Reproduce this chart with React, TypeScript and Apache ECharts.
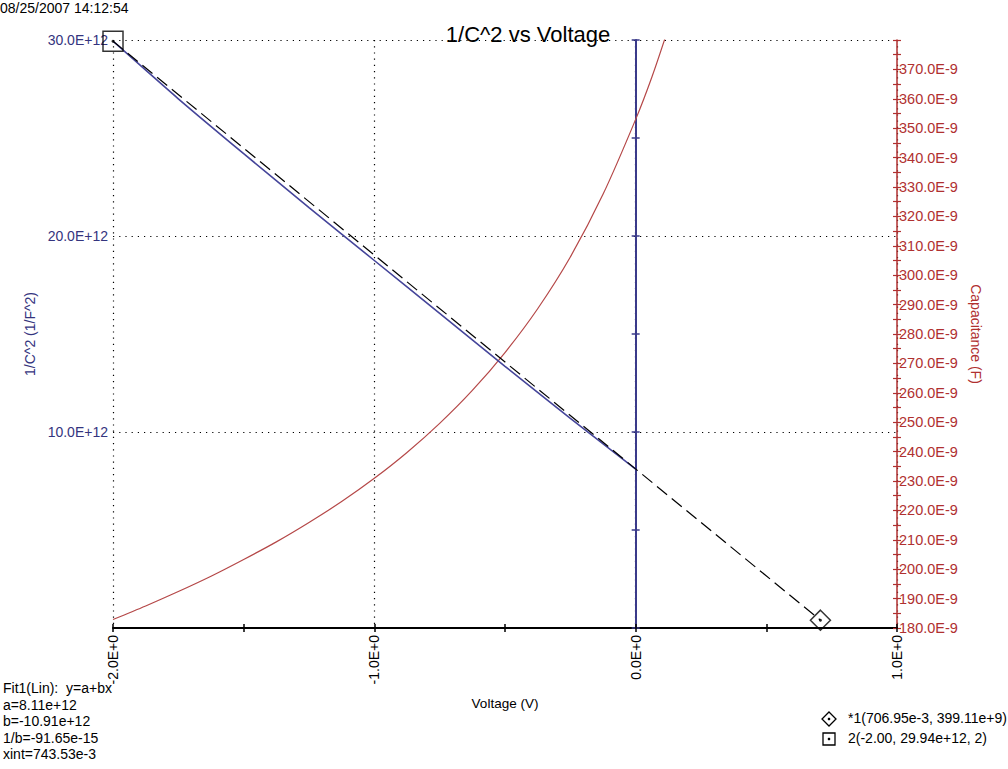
import React, { useEffect, useRef } from "react";
import * as echarts from "echarts";

// ---- Data ----
// 1/C^2 measured (units of 1E+12 1/F^2)
const voltages = [-2, -1.75, -1.5, -1.25, -1, -0.75, -0.5, -0.25, 0];
const invCapSq = [29.94, 27.0, 24.2, 21.45, 18.75, 16.05, 13.35, 10.7, 8.1];

// Capacitance (units of 1E-9 F)
const capVoltages = [
  -2, -1.875, -1.75, -1.625, -1.5, -1.375, -1.25, -1.125, -1, -0.875, -0.75,
  -0.625, -0.5, -0.375, -0.25, -0.125, 0, 0.0625, 0.125,
];
const capValues = [
  182.9, 187.5, 192.4, 197.6, 203.3, 209.3, 215.9, 223.0, 230.9, 239.7, 249.6,
  260.8, 273.7, 288.6, 306.2, 327.5, 353.0, 367.5, 384.0,
];

// Linear fit line endpoints (units of 1E+12)
const fitVoltages = [-2, 0.70695];
const fitValues = [29.94, 0.39911];

// Cursors
const cursor1 = [0.70695, 0.39911];
const cursor2 = [-2.0, 29.94];

// Tick settings
const xTicks = { min: -2, max: 1, interval: 1 };
const leftTicks = { min: 0, max: 30, interval: 10 };
const rightTicks = { min: 180, max: 380, interval: 5 };

const fitText = [
  "Fit1(Lin):  y=a+bx",
  "a=8.11e+12",
  "b=-10.91e+12",
  "1/b=-91.65e-15",
  "xint=743.53e-3",
];
const cursorText = ["*1(706.95e-3, 399.11e+9)", "2(-2.00, 29.94e+12, 2)"];

const FONT = '"Liberation Sans", Arial, Helvetica, sans-serif';
const BLUE = "#3a3a8a";
const BLUE_TXT = "#34347e";
const RED = "#b03030";
const RED_CURVE = "#b54848";

export default function App() {
  const ref = useRef<HTMLDivElement>(null);

  useEffect(() => {
    if (!ref.current) return;
    const chart = echarts.init(ref.current, undefined, { renderer: "svg" });

    const dotted = { color: "#000", width: 1.2, type: [1.2, 5] as any };

    const option: any = {
      animation: false,
      backgroundColor: "#ffffff",
      textStyle: { fontFamily: FONT },
      grid: { left: 113, right: 111, top: 40, bottom: 141, containLabel: false },
      xAxis: [
        {
          type: "value",
          min: xTicks.min,
          max: xTicks.max,
          interval: xTicks.interval,
          name: "Voltage (V)",
          nameLocation: "middle",
          nameGap: 68,
          nameTextStyle: { color: "#000", fontSize: 13.5, fontFamily: FONT },
          axisLine: { show: true, onZero: false, lineStyle: { color: "#000", width: 2 } },
          axisTick: { show: true, inside: false, length: 4, lineStyle: { color: "#000", width: 1.5 } },
          minorTick: { show: true, splitNumber: 2, length: 4, lineStyle: { color: "#000", width: 1.5 } },
          axisLabel: {
            rotate: 90,
            margin: 7,
            color: "#000",
            fontSize: 14,
            fontFamily: FONT,
            formatter: (v: number) => v.toFixed(1) + "E+0",
          },
          splitLine: { show: true, lineStyle: dotted },
        },
        {
          type: "value",
          min: xTicks.min,
          max: xTicks.max,
          interval: xTicks.interval,
          position: "bottom",
          axisLine: { show: false, onZero: false },
          axisTick: { show: true, inside: true, length: 4, lineStyle: { color: "#000", width: 1.5 } },
          minorTick: { show: true, splitNumber: 2, length: 4, lineStyle: { color: "#000", width: 1.5 } },
          axisLabel: { show: false },
          splitLine: { show: false },
        },
      ],
      yAxis: [
        {
          type: "value",
          position: "left",
          min: leftTicks.min,
          max: leftTicks.max,
          interval: leftTicks.interval,
          name: "1/C^2 (1/F^2)",
          nameLocation: "middle",
          nameGap: 76,
          nameTextStyle: { color: BLUE_TXT, fontSize: 14, fontFamily: FONT },
          axisLine: { show: false, onZero: false },
          axisTick: { show: false },
          axisLabel: {
            color: BLUE_TXT,
            fontSize: 14,
            margin: 5,
            fontFamily: FONT,
            formatter: (v: number) => (v === 0 ? "" : v.toFixed(1) + "E+12"),
          },
          splitLine: { show: true, lineStyle: dotted },
        },
        {
          type: "value",
          position: "right",
          min: rightTicks.min,
          max: rightTicks.max,
          interval: rightTicks.interval,
          name: "Capacitance (F)",
          nameLocation: "middle",
          nameGap: 72,
          nameRotate: -90,
          nameTextStyle: { color: RED, fontSize: 14, fontFamily: FONT },
          axisLine: { show: true, onZero: false, lineStyle: { color: RED, width: 1.5 } },
          axisTick: { show: true, inside: false, length: 4, lineStyle: { color: RED, width: 1.2 } },
          axisLabel: {
            color: RED,
            fontSize: 14.5,
            margin: 2,
            fontFamily: FONT,
            formatter: (v: number) =>
              v % 10 === 0 && v < rightTicks.max ? v.toFixed(1) + "E-9" : "",
          },
          splitLine: { show: false },
        },
        {
          type: "value",
          position: "right",
          min: rightTicks.min,
          max: rightTicks.max,
          interval: rightTicks.interval,
          axisLine: { show: false, onZero: false },
          axisTick: { show: true, inside: true, length: 4, lineStyle: { color: RED, width: 1.2 } },
          axisLabel: { show: false },
          splitLine: { show: false },
        },
        {
          type: "value",
          position: "left",
          min: leftTicks.min,
          max: leftTicks.max,
          interval: 5,
          axisLine: { show: true, onZero: true, onZeroAxisIndex: 0, lineStyle: { color: BLUE, width: 2 } },
          axisTick: { show: true, inside: false, length: 4, lineStyle: { color: BLUE, width: 1.5 } },
          axisLabel: { show: false },
          splitLine: { show: false },
        },
        {
          type: "value",
          position: "left",
          min: leftTicks.min,
          max: leftTicks.max,
          interval: 5,
          axisLine: { show: false, onZero: true, onZeroAxisIndex: 0 },
          axisTick: { show: true, inside: true, length: 4, lineStyle: { color: BLUE, width: 1.5 } },
          axisLabel: { show: false },
          splitLine: { show: false },
        },
      ],
      series: [
        {
          name: "Capacitance",
          type: "line",
          xAxisIndex: 0,
          yAxisIndex: 1,
          smooth: 0.3,
          symbol: "none",
          clip: true,
          lineStyle: { color: RED_CURVE, width: 1.2 },
          data: capVoltages.map((v, i) => [v, capValues[i]]),
          z: 3,
        },
        {
          name: "1/C^2",
          type: "line",
          xAxisIndex: 0,
          yAxisIndex: 0,
          smooth: 0.2,
          symbol: "none",
          lineStyle: { color: "#45459a", width: 1.6 },
          data: voltages.map((v, i) => [v, invCapSq[i]]),
          z: 4,
        },
        {
          name: "Fit1",
          type: "line",
          xAxisIndex: 0,
          yAxisIndex: 0,
          symbol: "none",
          lineStyle: { color: "#000", width: 1.2, type: [13, 6] },
          data: fitVoltages.map((v, i) => [v, fitValues[i]]),
          z: 5,
        },
        {
          name: "cursor2",
          type: "scatter",
          xAxisIndex: 0,
          yAxisIndex: 0,
          clip: false,
          symbol: "rect",
          symbolSize: 20,
          itemStyle: { color: "rgba(0,0,0,0)", borderColor: "#000", borderWidth: 1.5 },
          data: [cursor2],
          z: 6,
        },
        {
          name: "cursor1",
          type: "scatter",
          xAxisIndex: 0,
          yAxisIndex: 0,
          clip: false,
          symbol: "diamond",
          symbolSize: 20,
          itemStyle: { color: "rgba(0,0,0,0)", borderColor: "#000", borderWidth: 1.5 },
          data: [cursor1],
          z: 6,
        },
        {
          name: "cursorDots",
          type: "scatter",
          xAxisIndex: 0,
          yAxisIndex: 0,
          clip: false,
          symbol: "circle",
          symbolSize: 3,
          itemStyle: { color: "#000" },
          data: [cursor1, cursor2],
          z: 7,
        },
      ],
      graphic: [
        {
          type: "text",
          left: 0,
          top: 1,
          style: { text: "08/25/2007 14:12:54", font: `14px ${FONT}`, fill: "#000" },
        },
        {
          type: "text",
          x: 528,
          y: 23,
          style: {
            text: "1/C^2 vs Voltage",
            font: `22px ${FONT}`,
            fill: "#000",
            textAlign: "center",
            textVerticalAlign: "top",
          },
        },
        ...fitText.map((t, i) => ({
          type: "text",
          x: 3,
          y: 681 + i * 16.5,
          style: { text: t, font: `14px ${FONT}`, fill: "#000", textVerticalAlign: "top" },
        })),
        // cursor legend icons
        {
          type: "polygon",
          shape: { points: [[829, 712], [836, 719], [829, 726], [822, 719]] },
          style: { fill: "none", stroke: "#000", lineWidth: 1.3 },
        },
        { type: "circle", shape: { cx: 829, cy: 719, r: 1.3 }, style: { fill: "#000" } },
        {
          type: "rect",
          shape: { x: 823, y: 733, width: 12, height: 12 },
          style: { fill: "none", stroke: "#000", lineWidth: 1.3 },
        },
        { type: "circle", shape: { cx: 829, cy: 739, r: 1.3 }, style: { fill: "#000" } },
        ...cursorText.map((t, i) => ({
          type: "text",
          x: 848,
          y: 711 + i * 20,
          style: { text: t, font: `14px ${FONT}`, fill: "#000", textVerticalAlign: "top" },
        })),
      ],
    };

    chart.setOption(option);
    return () => chart.dispose();
  }, []);

  return (
    <div
      ref={ref}
      style={{
        position: "fixed",
        left: 0,
        top: 0,
        width: 1008,
        height: 769,
        background: "#fff",
      }}
    />
  );
}
